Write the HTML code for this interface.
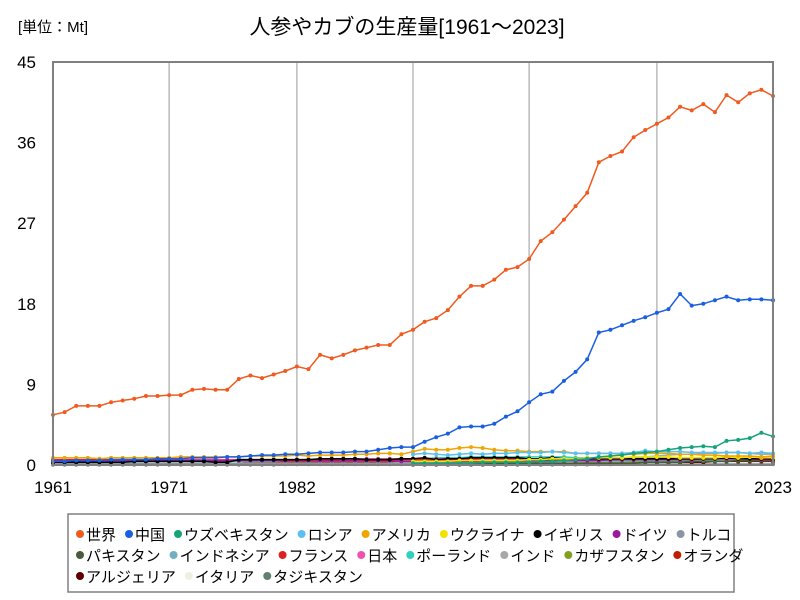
<!DOCTYPE html>
<html><head><meta charset="utf-8"><style>
body{margin:0;background:#fff;font-family:"Liberation Sans","Noto Sans CJK JP",sans-serif}
#wrap{position:relative;width:800px;height:600px;overflow:hidden}
</style></head><body>
<div id="wrap">
<svg id="svg" width="800" height="600" xmlns="http://www.w3.org/2000/svg">
<text x="18" y="32" font-size="15" font-family="Liberation Sans, Noto Sans CJK JP, sans-serif">[単位：Mt]</text>
<text x="407" y="34" font-size="21" text-anchor="middle" font-family="Liberation Sans, Noto Sans CJK JP, sans-serif">人参やカブの生産量[1961～2023]</text>
<g id="grid"></g><g id="series"></g><g id="axes"></g><g id="legend"></g>
</svg></div>
<script>
const years=[];for(let y=1961;y<=2023;y++)years.push(y);
const yTicks=[0,9,18,27,36,45];
const xTickLabels=[1961,1971,1982,1992,2002,2013,2023];
const N31=Array(31).fill(null);
const world=[5.6,5.9,6.6,6.6,6.6,7.0,7.2,7.4,7.7,7.7,7.8,7.8,8.4,8.5,8.4,8.4,9.6,10.0,9.7,10.1,10.5,11.0,10.7,12.3,11.9,12.3,12.8,13.1,13.4,13.4,14.6,15.1,16.0,16.4,17.3,18.8,20.0,20.0,20.7,21.8,22.1,23.0,25.0,26.0,27.4,28.9,30.4,33.8,34.5,35.0,36.6,37.4,38.1,38.8,40.0,39.6,40.3,39.4,41.3,40.5,41.5,41.9,41.2];
const china=[0.4,0.4,0.5,0.5,0.5,0.6,0.6,0.6,0.6,0.7,0.7,0.7,0.8,0.8,0.8,0.9,0.9,1.0,1.1,1.1,1.2,1.2,1.3,1.4,1.4,1.4,1.5,1.5,1.7,1.9,2.0,2.0,2.6,3.1,3.5,4.2,4.3,4.3,4.6,5.4,6.0,7.0,7.9,8.2,9.4,10.4,11.8,14.8,15.1,15.6,16.1,16.5,17.0,17.4,19.1,17.8,18.0,18.4,18.8,18.4,18.5,18.5,18.4];
const uzbek=N31.concat([0.2,0.2,0.2,0.2,0.2,0.2,0.3,0.3,0.3,0.3,0.3,0.4,0.4,0.5,0.6,0.7,0.9,1.0,1.1,1.3,1.4,1.5,1.7,1.9,2.0,2.1,2.0,2.7,2.8,3.0,3.6,3.2]);
const russia=N31.concat([1.2,1.3,1.2,1.1,1.2,1.3,1.2,1.3,1.3,1.4,1.4,1.4,1.5,1.4,1.3,1.3,1.3,1.3,1.3,1.4,1.6,1.5,1.5,1.5,1.4,1.4,1.4,1.4,1.4,1.3,1.4,1.3]);
const usa=[0.8,0.8,0.8,0.8,0.7,0.8,0.8,0.8,0.8,0.8,0.8,0.9,0.9,0.9,0.9,0.9,0.9,1.0,1.0,1.0,1.0,1.1,1.0,1.1,1.1,1.1,1.2,1.2,1.3,1.3,1.2,1.5,1.8,1.7,1.7,1.9,2.0,1.9,1.7,1.6,1.6,1.5,1.5,1.5,1.5,1.3,1.3,1.3,1.3,1.2,1.2,1.3,1.3,1.3,1.2,1.2,1.1,1.1,1.0,1.0,1.0,0.9,1.0];
const ukraine=N31.concat([0.4,0.4,0.4,0.4,0.5,0.5,0.5,0.5,0.5,0.5,0.6,0.6,0.7,0.7,0.7,0.8,0.8,0.8,0.8,0.9,0.9,0.9,0.9,0.8,0.8,0.8,0.8,0.9,0.8,0.9,0.8,0.8]);
const uk=[0.3,0.3,0.3,0.3,0.3,0.3,0.3,0.4,0.4,0.4,0.4,0.4,0.4,0.4,0.3,0.3,0.6,0.6,0.6,0.6,0.6,0.6,0.6,0.7,0.7,0.7,0.7,0.6,0.6,0.6,0.7,0.7,0.8,0.6,0.7,0.7,0.8,0.8,0.8,0.8,0.8,0.7,0.7,0.8,0.7,0.7,0.7,0.7,0.7,0.7,0.7,0.7,0.7,0.7,0.7,0.7,0.7,0.7,0.8,0.7,0.7,0.7,0.7];
const germany=[0.5,0.5,0.5,0.5,0.5,0.5,0.5,0.5,0.5,0.5,0.5,0.5,0.5,0.5,0.5,0.5,0.5,0.5,0.5,0.5,0.5,0.5,0.5,0.5,0.5,0.5,0.5,0.5,0.5,0.5,0.4,0.4,0.4,0.4,0.4,0.4,0.4,0.4,0.5,0.5,0.5,0.5,0.5,0.5,0.5,0.5,0.5,0.5,0.6,0.6,0.6,0.6,0.6,0.6,0.6,0.6,0.7,0.7,0.7,0.7,0.7,0.6,0.6];
const turkey=[0.1,0.1,0.1,0.1,0.1,0.1,0.1,0.1,0.1,0.1,0.1,0.1,0.1,0.1,0.1,0.1,0.1,0.1,0.1,0.1,0.1,0.1,0.1,0.2,0.2,0.2,0.2,0.2,0.2,0.2,0.2,0.2,0.3,0.3,0.3,0.3,0.3,0.3,0.4,0.4,0.4,0.4,0.4,0.5,0.5,0.5,0.5,0.6,0.6,0.6,0.6,0.6,0.6,0.6,0.6,0.6,0.6,0.6,0.7,0.7,0.7,0.7,0.7];
const pakistan=[0.1,0.1,0.1,0.1,0.1,0.1,0.1,0.1,0.1,0.1,0.1,0.1,0.1,0.1,0.1,0.1,0.1,0.1,0.1,0.1,0.1,0.1,0.1,0.1,0.1,0.1,0.1,0.1,0.1,0.1,0.1,0.1,0.2,0.2,0.2,0.2,0.2,0.2,0.2,0.2,0.2,0.2,0.2,0.2,0.2,0.2,0.2,0.2,0.2,0.2,0.2,0.3,0.3,0.3,0.3,0.4,0.4,0.4,0.4,0.5,0.5,0.5,0.5];
const indonesia=[0.1,0.1,0.1,0.1,0.1,0.1,0.1,0.1,0.1,0.1,0.1,0.1,0.1,0.1,0.1,0.1,0.1,0.1,0.1,0.1,0.1,0.1,0.2,0.2,0.2,0.2,0.2,0.2,0.2,0.2,0.2,0.2,0.3,0.3,0.3,0.3,0.3,0.3,0.3,0.3,0.3,0.3,0.3,0.3,0.4,0.4,0.4,0.4,0.4,0.4,0.5,0.5,0.5,0.5,0.5,0.5,0.5,0.5,0.6,0.6,0.6,0.6,0.6];
const france=[0.6,0.6,0.6,0.6,0.6,0.6,0.6,0.6,0.6,0.6,0.5,0.5,0.5,0.5,0.5,0.5,0.5,0.5,0.5,0.5,0.5,0.5,0.5,0.5,0.5,0.5,0.5,0.5,0.5,0.5,0.6,0.6,0.6,0.6,0.6,0.6,0.6,0.7,0.7,0.7,0.7,0.6,0.6,0.6,0.6,0.6,0.6,0.6,0.6,0.6,0.6,0.6,0.6,0.6,0.6,0.6,0.6,0.6,0.6,0.6,0.6,0.5,0.5];
const japan=[0.4,0.4,0.4,0.4,0.4,0.5,0.5,0.5,0.5,0.5,0.5,0.6,0.6,0.6,0.6,0.6,0.6,0.6,0.6,0.6,0.6,0.6,0.6,0.6,0.6,0.6,0.7,0.7,0.7,0.7,0.7,0.7,0.7,0.7,0.7,0.7,0.7,0.7,0.7,0.7,0.7,0.7,0.6,0.6,0.6,0.6,0.6,0.6,0.6,0.6,0.6,0.6,0.6,0.6,0.6,0.6,0.6,0.6,0.6,0.6,0.6,0.6,0.6];
const poland=[0.4,0.4,0.4,0.4,0.4,0.4,0.4,0.4,0.4,0.4,0.4,0.4,0.4,0.4,0.4,0.4,0.4,0.4,0.4,0.4,0.5,0.5,0.5,0.5,0.5,0.5,0.5,0.5,0.6,0.6,0.7,0.7,0.7,0.8,0.8,0.8,0.9,0.9,0.9,0.9,0.9,0.9,0.9,0.9,0.9,0.8,0.8,0.8,0.8,0.8,0.8,0.8,0.8,0.8,0.8,0.8,0.7,0.7,0.7,0.6,0.6,0.6,0.6];
const india=[0.2,0.2,0.2,0.2,0.2,0.2,0.2,0.2,0.2,0.2,0.2,0.2,0.2,0.2,0.2,0.2,0.2,0.2,0.2,0.2,0.2,0.2,0.2,0.2,0.2,0.2,0.2,0.2,0.2,0.2,0.3,0.3,0.3,0.3,0.3,0.3,0.3,0.3,0.3,0.3,0.3,0.3,0.4,0.4,0.4,0.5,0.5,0.6,0.6,0.7,0.8,0.9,1.0,1.1,1.2,1.2,1.3,1.3,1.4,1.4,1.3,1.2,1.2];
const kazakh=N31.concat([0.1,0.1,0.1,0.1,0.1,0.1,0.1,0.1,0.1,0.2,0.2,0.2,0.2,0.2,0.2,0.3,0.3,0.3,0.3,0.3,0.4,0.4,0.4,0.4,0.5,0.5,0.5,0.5,0.5,0.5,0.5,0.5]);
const netherlands=[0.2,0.2,0.2,0.2,0.2,0.2,0.2,0.2,0.2,0.2,0.2,0.2,0.2,0.2,0.2,0.2,0.2,0.3,0.3,0.3,0.3,0.3,0.3,0.3,0.3,0.3,0.3,0.3,0.3,0.3,0.4,0.4,0.4,0.4,0.4,0.4,0.4,0.4,0.4,0.4,0.4,0.4,0.4,0.4,0.4,0.4,0.4,0.5,0.5,0.5,0.5,0.5,0.5,0.5,0.5,0.5,0.5,0.5,0.5,0.5,0.5,0.5,0.5];
const algeria=[0.05,0.05,0.05,0.05,0.05,0.05,0.05,0.05,0.05,0.05,0.05,0.05,0.05,0.05,0.05,0.05,0.05,0.05,0.05,0.05,0.1,0.1,0.1,0.1,0.1,0.1,0.1,0.1,0.1,0.1,0.1,0.1,0.1,0.1,0.1,0.1,0.1,0.1,0.1,0.1,0.1,0.1,0.2,0.2,0.2,0.2,0.2,0.2,0.2,0.3,0.3,0.3,0.3,0.3,0.3,0.3,0.3,0.4,0.4,0.4,0.4,0.4,0.4];
const italy=[0.2,0.2,0.2,0.2,0.2,0.2,0.2,0.2,0.2,0.2,0.2,0.2,0.2,0.2,0.2,0.2,0.2,0.2,0.2,0.2,0.2,0.2,0.2,0.2,0.2,0.2,0.3,0.3,0.3,0.3,0.4,0.4,0.4,0.5,0.5,0.5,0.5,0.5,0.5,0.6,0.6,0.6,0.6,0.6,0.6,0.6,0.6,0.6,0.6,0.5,0.5,0.5,0.5,0.5,0.5,0.5,0.5,0.5,0.5,0.5,0.5,0.5,0.5];
const tajik=N31.concat([0.02,0.02,0.02,0.02,0.02,0.02,0.02,0.02,0.02,0.03,0.03,0.03,0.04,0.05,0.05,0.06,0.07,0.08,0.1,0.1,0.1,0.1,0.1,0.1,0.1,0.1,0.1,0.1,0.1,0.1,0.1,0.1]);
const seriesNames=["世界","中国","ウズベキスタン","ロシア","アメリカ","ウクライナ","イギリス","ドイツ","トルコ","パキスタン","インドネシア","フランス","日本","ポーランド","インド","カザフスタン","オランダ","アルジェリア","イタリア","タジキスタン"];
const seriesData=[world,china,uzbek,russia,usa,ukraine,uk,germany,turkey,pakistan,indonesia,france,japan,poland,india,kazakh,netherlands,algeria,italy,tajik];
const colors=["#f05a1e","#1a5fe0","#16a37a","#5bc0f0","#f0a500","#f5e100","#000000","#9b1a9b","#8a96a4","#4a5a3a","#70b0c0","#e02020","#f050b0","#30d0c0","#a8a8a8","#80a020","#c02000","#600000","#f0f0e0","#608070"];
const X0=53,X1=773,Y0=465,Y1=62,YMAX=45;
const xs=y=>X0+(y-1961)/(2023-1961)*(X1-X0);
const ys=v=>Y0-v/YMAX*(Y0-Y1);
const NS="http://www.w3.org/2000/svg";
function mk(tag,attrs,parent){const e=document.createElementNS(NS,tag);for(const k in attrs)e.setAttribute(k,attrs[k]);parent.appendChild(e);return e;}
const grid=document.getElementById('grid'),axes=document.getElementById('axes'),ser=document.getElementById('series'),leg=document.getElementById('legend');
xTickLabels.forEach(y=>{
  const l=mk('line',{x1:xs(y),x2:xs(y),y1:Y1,y2:Y0,stroke:'#bbb','stroke-width':1.5},grid);
  
  
  const t=mk('text',{x:xs(y),y:Y0+28,'font-size':17,'text-anchor':'middle'},axes);
  t.textContent=y;
  
  
});
yTicks.forEach(v=>{
  const t=mk('text',{x:36,y:ys(v)+6,'font-size':17,'text-anchor':'end'},axes);
  t.textContent=v;
  
  
});
const frame=mk('rect',{x:X0,y:Y1,width:X1-X0,height:Y0-Y1,fill:'none',stroke:'#808080','stroke-width':2},axes);


for(let s=seriesData.length-1;s>=0;s--){
  const d=seriesData[s];const g=mk('g',{},ser);
  
  
  let p='';d.forEach((v,i)=>{if(v==null)return;p+=(p?'L':'M')+xs(years[i]).toFixed(1)+','+ys(v).toFixed(1);});
  const path=mk('path',{d:p,fill:'none',stroke:colors[s],'stroke-width':1.5},g);
  
  
  d.forEach((v,i)=>{if(v==null)return;
    const c=mk('circle',{cx:xs(years[i]),cy:ys(v),r:2,fill:colors[s]},g);
    
    
  });
}
const lb=mk('rect',{x:68,y:514,width:666,height:78,fill:'#fff',stroke:'#808080','stroke-width':1.5},leg);


const rows=[[0,9],[9,17],[17,20]];
rows.forEach((r,ri)=>{let x=76;const y=534+ri*21;
  for(let s=r[0];s<r[1];s++){
    const g=mk('g',{},leg);
    
    
    mk('circle',{cx:x+4,cy:y,r:4,fill:colors[s]},g);
    const t=mk('text',{x:x+10,y:y+6,'font-size':15},g);
    t.textContent=seriesNames[s];
    x+=10+t.getComputedTextLength()+9;
  }
});
</script>
</body></html>
